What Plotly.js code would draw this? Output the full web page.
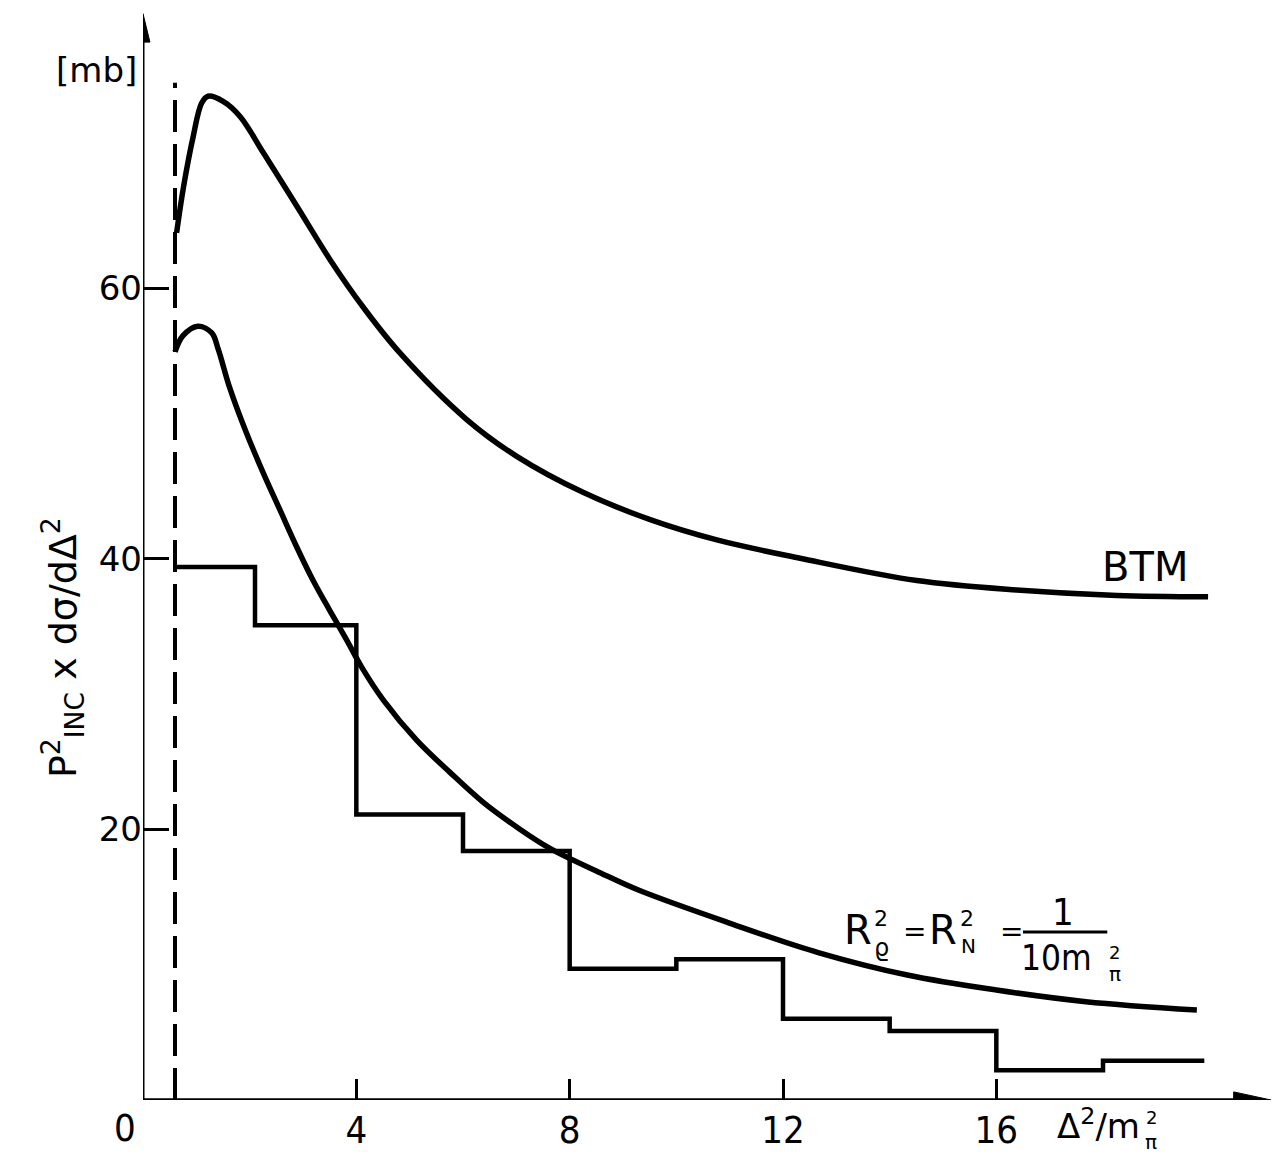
<!DOCTYPE html>
<html>
<head>
<meta charset="utf-8">
<script src="https://cdn.plot.ly/plotly-3.0.1.min.js"></script>
<style>html,body{margin:0;padding:0;background:#fff;}#chart{width:1285px;height:1160px;}</style>
</head>
<body>
<div id="chart"></div>
<script>
// Histogram (measured distribution)
const histEdges = [0.6, 2.1, 4, 6, 8, 10, 12, 14, 16, 18, 19.9];
const histValues = [39.4, 35.1, 21.1, 18.4, 9.7, 10.4, 6.0, 5.1, 2.2, 2.9];

// BTM curve
const btmX = [0.63, 0.76, 0.94, 1.1, 1.22, 1.51, 1.82, 2.26, 2.88, 3.51, 4.13, 4.8, 6.07, 7.0, 8.26, 9.51, 10.76, 12.32, 14.51, 16.38, 18.26, 19.97];
const btmY = [64.1, 67.5, 71.2, 73.7, 74.2, 73.8, 72.7, 70.0, 66.1, 62.1, 58.6, 55.3, 50.3, 47.6, 44.9, 42.9, 41.4, 40.05, 38.4, 37.7, 37.3, 37.2];

// R_rho^2 = R_N^2 = 1/(10 m_pi^2) curve
const radX = [0.6, 0.75, 1.03, 1.29, 1.41, 1.63, 1.94, 2.25, 2.57, 2.88, 3.19, 3.5, 3.82, 4.1, 4.5, 5.13, 5.76, 6.38, 7.0, 7.63, 8.57, 9.3, 10.98, 12.66, 14.33, 16.0, 17.68, 19.76];
const radY = [55.3, 56.5, 57.2, 56.7, 55.5, 52.6, 49.3, 46.4, 43.6, 40.9, 38.4, 36.2, 34.0, 32.0, 29.6, 26.6, 24.2, 22.0, 20.2, 18.6, 16.8, 15.5, 13.1, 10.9, 9.24, 8.13, 7.27, 6.65];

// Cut-off (dashed line)
const cutX = 0.6;
const cutTop = 75.2;

// Axis ticks
const xTicks = [4, 8, 12, 16];
const yTicks = [20, 40, 60];

const FONT = "DejaVu Sans, Liberation Sans, sans-serif";
const COND = "DejaVu Sans Condensed, Liberation Sans Narrow, DejaVu Sans, sans-serif";

const traces = [
  {x: [cutX, cutX], y: [0, cutTop], mode: 'lines', line: {color: '#000', width: 4, dash: '32px,12px'}, hoverinfo: 'skip'},
  {x: histEdges, y: histValues.concat([histValues[histValues.length - 1]]), mode: 'lines', line: {color: '#000', width: 4.5, shape: 'hv'}},
  {x: btmX, y: btmY, mode: 'lines', line: {color: '#000', width: 5.5, shape: 'spline', smoothing: 1.0}},
  {x: radX, y: radY, mode: 'lines', line: {color: '#000', width: 5.5, shape: 'spline', smoothing: 1.0}}
];

function txt(x, y, text, size, family, extra) {
  return Object.assign({x: x, y: y, xref: 'x', yref: 'y', text: text, showarrow: false,
    font: {size: size, color: '#000', family: family || FONT}, xanchor: 'center', yanchor: 'middle'}, extra || {});
}
function ptxt(x, y, text, size, family, extra) {
  return txt(x, y, text, size, family, Object.assign({xref: 'paper', yref: 'paper'}, extra || {}));
}

const annotations = [
  ptxt(-0.0405, 0.946, '[mb]', 34),
  ptxt(-0.0158, -0.0257, '0', 38, COND),
  ptxt(-0.0713, 0.415, 'P<sup>2</sup><sub>INC</sub> x dσ/dΔ<sup>2</sup>', 38, FONT, {textangle: -90}),
  txt(18.79, 39.4, 'BTM', 40),
  // formula R_rho^2 = R_N^2 = 1/(10 m_pi^2)
  txt(13.40, 12.57, 'R', 40),
  txt(13.84, 13.45, '2', 22),
  txt(13.84, 11.25, 'ϱ', 24),
  txt(14.47, 12.42, '=', 28),
  txt(15.0, 12.57, 'R', 40),
  txt(15.45, 13.45, '2', 22),
  txt(15.47, 11.4, 'N', 20),
  txt(16.28, 12.42, '=', 28),
  txt(17.25, 13.9, '1', 38, COND),
  txt(17.12, 10.5, '10m', 35, COND),
  txt(18.22, 10.9, '2', 18),
  txt(18.22, 9.35, 'π', 20),
  // x axis label
  ptxt(0.8794, -0.022, 'Δ<sup>2</sup>/m', 34, FONT, {xanchor: 'right'}),
  ptxt(0.8874, -0.0160, '2', 18),
  ptxt(0.8874, -0.0390, 'π', 20)
];

const shapes = [
  // axes
  {type: 'line', xref: 'x', yref: 'y', x0: 0, y0: 0, x1: 0, y1: 78.5, line: {color: '#000', width: 3}},
  {type: 'line', xref: 'x', yref: 'y', x0: 0, y0: 0, x1: 20.6, y1: 0, line: {color: '#000', width: 3.5}},
  // arrow heads
  {type: 'path', xref: 'x', yref: 'y', path: 'M 0 80.3 L -0.13 78.2 L 0.13 78.2 Z', fillcolor: '#000', line: {color: '#000', width: 1}},
  {type: 'path', xref: 'x', yref: 'y', path: 'M 21.15 0 L 20.45 0.6 L 20.45 -0.6 Z', fillcolor: '#000', line: {color: '#000', width: 1}},
  // fraction bar
  {type: 'line', xref: 'x', yref: 'y', x0: 16.5, y0: 12.42, x1: 18.08, y1: 12.42, line: {color: '#000', width: 3}}
];

const layout = {
  width: 1285, height: 1160,
  margin: {l: 143, r: 6, t: 11, b: 60},
  paper_bgcolor: '#fff', plot_bgcolor: '#fff',
  showlegend: false,
  xaxis: {range: [0, 21.3], showgrid: false, zeroline: false, showline: false,
    tickmode: 'array', tickvals: xTicks, ticktext: xTicks.map(String),
    ticks: 'inside', ticklen: 21, tickwidth: 3, tickcolor: '#000',
    tickfont: {size: 38, family: COND, color: '#000'}, ticklabelstandoff: 4},
  yaxis: {range: [0, 80.5], showgrid: false, zeroline: false, showline: false,
    tickmode: 'array', tickvals: yTicks, ticktext: yTicks.map(String),
    ticks: 'inside', ticklen: 26, tickwidth: 3, tickcolor: '#000',
    tickfont: {size: 34, family: FONT, color: '#000'}, ticklabelstandoff: 0},
  annotations: annotations,
  shapes: shapes
};

Plotly.newPlot('chart', traces, layout, {displayModeBar: false, staticPlot: true});
</script>
</body>
</html>
